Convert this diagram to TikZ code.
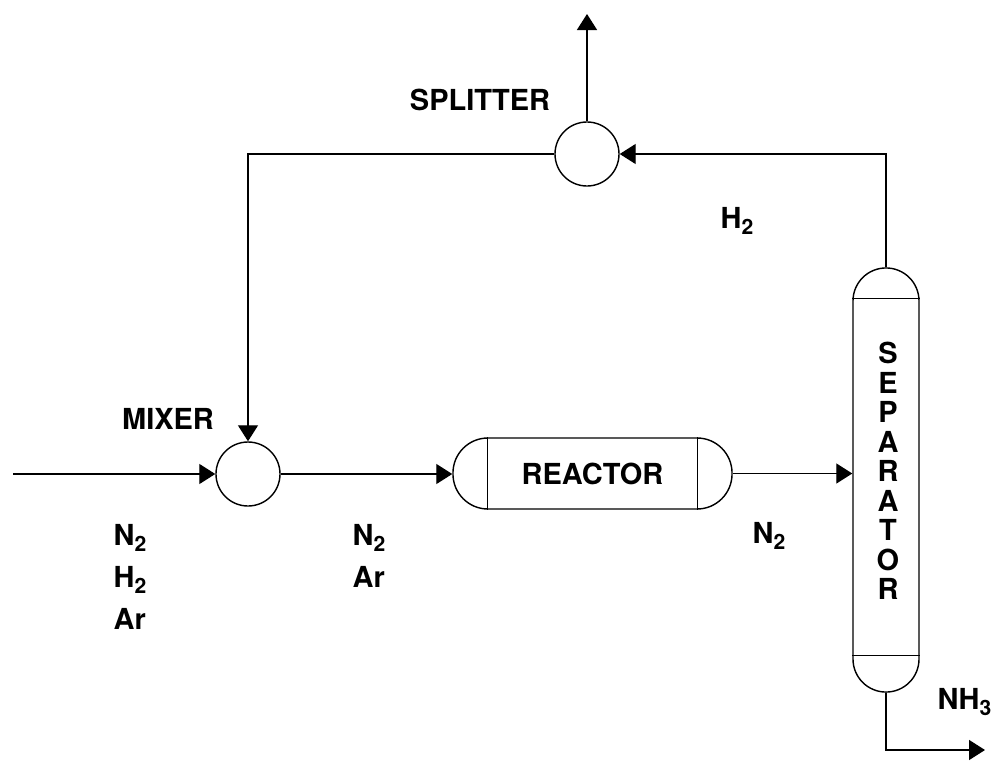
\documentclass[tikz,border=0pt]{standalone}
\usepackage{fontspec}
\setmainfont{TeX Gyre Heros}
\usetikzlibrary{arrows.meta, calc}
\newcommand{\chemsub}[1]{\raisebox{-4.3pt}{\fontsize{15}{15}\selectfont #1}}

\begin{document}
\begin{tikzpicture}[x=0.025cm, y=-0.025cm, line width=1pt,
        font=\fontsize{20.6}{24}\selectfont\bfseries,
        unit/.style={draw, circle, minimum size=1.6cm, inner sep=0pt},
        vessel/.style={draw, rounded corners=0.875cm, inner sep=0pt},
        lbl/.style={inner sep=0pt},
        stream/.style={-{Triangle[length=0.4cm, width=0.5cm]}}]
    \useasboundingbox (0,0) rectangle (994,763);
    \node[unit] (mixer) at (248,474) {};
    \node[unit] (splitter) at (587,154) {};
    \node[vessel, minimum width=6.975cm, minimum height=1.775cm] (reactor) at (592.5,473.5) {REACTOR};
    \node[vessel, rounded corners=0.825cm, minimum width=1.65cm, minimum height=10.6cm] (sep) at (886,480) {};
    \draw ($(reactor.north west)+(35,0)$) -- ($(reactor.south west)+(35,0)$);
    \draw ($(reactor.north east)+(-35,0)$) -- ($(reactor.south east)+(-35,0)$);
    \draw ($(sep.north west)+(0,31)$) -- ($(sep.north east)+(0,31)$);
    \draw ($(sep.south west)+(0,-37)$) -- ($(sep.south east)+(0,-37)$);
    \coordinate (feed) at (13,474);
    \coordinate (purge) at (587,14);
    \coordinate (product) at (985,750);
    \draw[stream] (feed) -- (mixer.west);
    \draw[stream] (mixer.east) -- (mixer.east -| reactor.west);
    \draw[stream] (reactor.east) -- (reactor.east -| sep.west);
    \draw[stream] (sep.north) |- (splitter.east);
    \draw[stream] (splitter.west) -| (mixer.north);
    \draw[stream] (splitter.north) -- (purge);
    \draw[stream] (sep.south) |- (product);
    \node[lbl, anchor=base] (splitlbl) at (480,110) {SPLITTER};
    \node[lbl, anchor=base] (mixlbl) at (168,429) {MIXER};
    \node[lbl, anchor=base west] (recycle) at (720,228) {H\chemsub{2}};
    \node[lbl, anchor=base west] (outlet) at (752,543) {N\chemsub{2}};
    \node[lbl, anchor=base west] (prod) at (937,709) {NH\chemsub{3}};
    \foreach \t [count=\i] in {N\chemsub{2}, H\chemsub{2}, Ar}
        \node[lbl, anchor=base west] (feed\i) at (113,{545+42*(\i-1)}) {\t};
    \foreach \t [count=\i] in {N\chemsub{2}, Ar}
        \node[lbl, anchor=base west] (mid\i) at (352,{545+42*(\i-1)}) {\t};
    \foreach \ch [count=\i] in {S,E,P,A,R,A,T,O,R}
        \node[lbl] (sep\i) at (888,{353+29.5*(\i-1)}) {\ch};
\end{tikzpicture}
\end{document}
